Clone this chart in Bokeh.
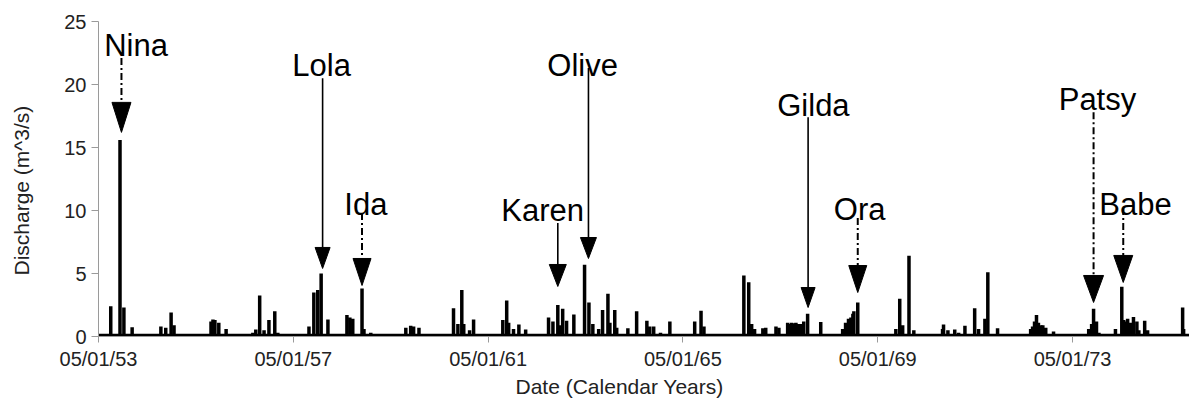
import numpy as np
import pandas as pd
from bokeh.plotting import figure
from bokeh.models import Range1d, FixedTicker, Title
from bokeh.core.properties import value
from bokeh.embed import file_html
from bokeh.resources import INLINE

# ---------------- data ----------------
x_start = "1953-05-01"
x_end = "1975-09-25"

tick_dates = ["1953-05-01", "1957-05-01", "1961-05-01", "1965-05-01", "1969-05-01", "1973-05-01"]
tick_labels = ["05/01/53", "05/01/57", "05/01/61", "05/01/65", "05/01/69", "05/01/73"]
y_ticks = [0, 5, 10, 15, 20, 25]

x_title = "Date (Calendar Years)"
y_title = "Discharge (m^3/s)"

base_flow = 0.1

# discharge peaks: decimal year and value (m^3/s)
peak_years = [
    1953.58, 1953.77, 1953.85, 1954.02, 1954.61, 1954.71, 1954.82, 1954.88,
    1955.54, 1955.64, 1955.68, 1955.72, 1955.80, 1955.95,
    1956.50, 1956.56, 1956.64, 1956.73, 1956.83, 1956.95, 1957.01,
    1957.65, 1957.75, 1957.83, 1957.90, 1958.04,
    1958.43, 1958.49, 1958.55, 1958.74, 1958.78, 1958.92,
    1959.64, 1959.74, 1959.80, 1959.91,
    1960.62, 1960.71, 1960.79, 1960.83, 1960.95, 1961.03, 1961.24,
    1961.49, 1961.63, 1961.71, 1961.75, 1961.85, 1961.96, 1962.10,
    1962.57, 1962.66, 1962.76, 1962.80, 1962.86, 1962.94, 1963.09,
    1963.31, 1963.40, 1963.48, 1963.60, 1963.68, 1963.79, 1963.83, 1963.93, 1963.97,
    1964.20, 1964.38, 1964.59, 1964.65, 1964.73, 1964.87, 1965.06,
    1965.57, 1965.70, 1965.76, 1965.86,
    1966.58, 1966.68, 1966.74, 1966.80, 1966.97, 1967.03, 1967.24, 1967.30,
    1967.48, 1967.52, 1967.56, 1967.60, 1967.65, 1967.70, 1967.75, 1967.81, 1967.89, 1967.99,
    1968.16, 1968.61, 1968.67, 1968.73, 1968.78, 1968.82, 1968.84, 1968.92, 1968.98,
    1969.60, 1969.70, 1969.78, 1969.84, 1969.97, 1970.07,
    1970.66, 1970.68, 1970.77, 1970.91, 1970.99, 1971.12, 1971.24,
    1971.32, 1971.40, 1971.53, 1971.59, 1971.65, 1971.79,
    1972.47, 1972.51, 1972.55, 1972.59, 1972.63, 1972.68, 1972.72, 1972.78, 1972.94,
    1973.66, 1973.72, 1973.76, 1973.82, 1973.87,
    1974.21, 1974.34, 1974.38, 1974.42, 1974.46, 1974.52, 1974.58, 1974.65, 1974.69,
    1974.81, 1974.87, 1975.59, 1975.61,
]
peak_values = [
    2.4, 15.6, 2.3, 0.74, 0.8, 0.7, 1.9, 0.9,
    0.2, 1.2, 1.35, 1.3, 1.1, 0.6,
    0.3, 0.55, 3.25, 0.5, 1.3, 2.0, 0.3,
    0.8, 3.5, 3.7, 5.0, 1.35,
    1.7, 1.5, 1.4, 3.8, 0.6, 0.3,
    0.7, 0.85, 0.8, 0.7,
    2.25, 1.0, 3.7, 1.0, 0.5, 1.35, 0.2,
    0.15, 1.3, 2.85, 1.1, 0.6, 0.95, 0.55,
    1.5, 1.2, 2.5, 0.9, 2.2, 1.25, 1.75,
    5.7, 2.7, 1.0, 0.6, 2.1, 3.4, 1.1, 2.1, 0.7,
    0.65, 2.0, 1.25, 0.8, 0.8, 0.3, 1.2,
    1.2, 2.05, 0.8, 0.2,
    4.85, 4.3, 1.0, 0.6, 0.65, 0.7, 0.8, 0.7,
    1.1, 1.0, 1.1, 1.05, 1.1, 1.0, 1.0, 1.2, 1.8, 0.2,
    1.15, 0.6, 1.1, 1.4, 1.5, 1.8, 2.0, 2.7, 0.2,
    0.2, 0.6, 3.0, 0.9, 6.4, 0.5,
    0.6, 0.95, 0.5, 0.55, 0.3, 0.85, 0.2,
    2.25, 0.6, 1.4, 5.1, 0.2, 0.65,
    0.6, 0.8, 1.2, 1.7, 1.1, 0.9, 0.9, 0.7, 0.4,
    0.6, 1.0, 2.2, 1.2, 0.3,
    0.6, 3.95, 1.3, 1.2, 1.4, 1.1, 1.55, 1.2, 0.5,
    1.25, 0.5, 2.3, 0.6,
]

# storm annotations
event_names = ["Nina", "Lola", "Ida", "Karen", "Olive", "Gilda", "Ora", "Patsy", "Babe"]
arrow_years = [1953.80, 1957.93, 1958.74, 1962.76, 1963.39, 1967.90, 1968.92, 1973.76, 1974.37]
arrow_tip = [16.2, 5.4, 4.05, 3.97, 6.19, 2.3, 3.49, 2.7, 4.29]
arrow_top = [22.1, 20.5, 9.8, 9.0, 21.3, 17.4, 9.4, 17.8, 10.2]
label_years = [1954.10, 1957.91, 1958.82, 1962.45, 1963.27, 1968.01, 1968.96, 1973.84, 1974.62]
label_values = [23.1, 21.5, 10.48, 10.0, 21.5, 18.33, 10.08, 18.81, 10.48]

# styles / layout (kept apart from data)
arrow_dashed = [True, False, True, False, False, False, True, True, True]
head_w_px = [19, 15, 18, 17, 16, 14, 18, 20, 19]
head_h_px = [30, 21, 27, 22, 21, 20, 27, 27, 27]

# ---------------- helpers ----------------
def year_to_ms(y):
    yr = int(np.floor(y))
    t = pd.Timestamp(year=yr, month=1, day=1) + pd.Timedelta(days=(y - yr) * 365.25)
    return t.value / 1e6

def date_ms(s):
    return pd.Timestamp(s).value / 1e6

x0 = date_ms(x_start)
x1 = date_ms(x_end)

W, H = 1189, 403
ML, MR, MT, MB = 98, 0, 21, 67
frame_w = W - ML - MR
frame_h = H - MT - MB
ms_per_px = (x1 - x0) / frame_w
val_per_px = 25.0 / frame_h

FONT = "Liberation Sans"

p = figure(
    width=W, height=H,
    x_range=Range1d(x0, x1), y_range=Range1d(0, 25),
    output_backend="svg", toolbar_location=None,
    min_border_left=ML, min_border_right=MR, min_border_top=MT, min_border_bottom=MB,
)
p.outline_line_color = None
p.xgrid.grid_line_color = None
p.ygrid.grid_line_color = None
p.background_fill_color = "white"
p.border_fill_color = "white"

# series
px = [year_to_ms(y) for y in peak_years]
p.line([x0, x1], [base_flow, base_flow], line_width=3, line_color="black")
p.segment(x0=px, y0=[0] * len(px), x1=px, y1=peak_values, line_width=3.5, line_color="black")

# arrows
for i, name in enumerate(event_names):
    ax = year_to_ms(arrow_years[i])
    tip = arrow_tip[i]
    hh = head_h_px[i] * val_per_px
    hw = head_w_px[i] * ms_per_px / 2
    dash = "7 3 2 3" if arrow_dashed[i] else "solid"
    p.line([ax, ax], [arrow_top[i], tip + hh], line_width=2 if arrow_dashed[i] else 1.6,
           line_color="black", line_dash=dash)
    p.patch([ax - hw, ax + hw, ax], [tip + hh, tip + hh, tip],
            fill_color="black", line_color="black", line_width=1)

p.text(
    x=[year_to_ms(y) for y in label_years], y=label_values, text=event_names,
    text_font=value(FONT), text_font_size="31px", text_align="center",
    text_baseline="alphabetic", text_color="black",
)

# axes
for ax in (p.xaxis[0], p.yaxis[0]):
    ax.axis_line_color = "#9a9a9a"
    ax.axis_line_width = 1
    ax.major_tick_line_color = "#9a9a9a"
    ax.major_tick_in = 0
    ax.minor_tick_line_color = None
    ax.major_label_text_font = FONT
    ax.major_label_text_font_size = "20px"
    ax.major_label_text_color = "#222222"

tick_ms = [date_ms(d) for d in tick_dates]
p.xaxis.ticker = FixedTicker(ticks=tick_ms)
p.xaxis.major_label_overrides = {t: lab for t, lab in zip(tick_ms, tick_labels)}
p.xaxis.major_tick_out = 6
p.xaxis.major_label_standoff = 5

p.yaxis.ticker = FixedTicker(ticks=y_ticks)
p.yaxis.major_tick_out = 7
p.yaxis.major_label_standoff = 5
# y title: axis label; trailing no-break spaces nudge the visible text down a little
p.yaxis.axis_label = y_title + "\u00a0" * 4
p.yaxis.axis_label_standoff = 28
p.yaxis.axis_label_text_font = FONT
p.yaxis.axis_label_text_font_size = "21px"
p.yaxis.axis_label_text_font_style = "normal"
p.yaxis.axis_label_text_color = "#222222"

# x title as a side title (allows an offset along the axis)
p.add_layout(Title(text=x_title, align="left", offset=417, vertical_align="bottom",
                   standoff=0, text_font=FONT, text_font_size="21px",
                   text_font_style="normal", text_color="#222222"), "below")

open("out.html", "w").write(file_html(p, INLINE))
